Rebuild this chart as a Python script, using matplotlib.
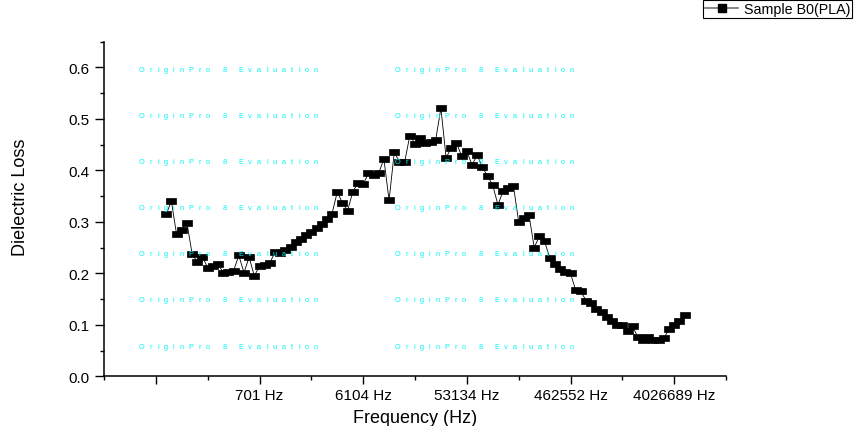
import numpy as np
import matplotlib
matplotlib.use('Agg')
import matplotlib.pyplot as plt
from matplotlib.path import Path
from matplotlib.lines import Line2D

plt.rcParams['font.family'] = ['Liberation Sans', 'DejaVu Sans']

# ---- data ----
series_label = 'Sample B0(PLA)'
dielectric_loss = [
    0.315, 0.340, 0.276, 0.285, 0.298, 0.238, 0.222, 0.232, 0.211, 0.214,
    0.218, 0.2015, 0.203, 0.205, 0.235, 0.2015, 0.231, 0.195, 0.214, 0.216,
    0.220, 0.2415, 0.240, 0.245, 0.252, 0.260, 0.267, 0.274, 0.280, 0.288,
    0.296, 0.306, 0.316, 0.358, 0.337, 0.322, 0.3585, 0.376, 0.373, 0.394,
    0.391, 0.395, 0.422, 0.342, 0.435, 0.417, 0.416, 0.4676, 0.452, 0.463,
    0.4535, 0.455, 0.460, 0.521, 0.4244, 0.444, 0.4535, 0.4275, 0.437, 0.411,
    0.4295, 0.406, 0.389, 0.371, 0.333, 0.360, 0.366, 0.3694, 0.300, 0.307,
    0.313, 0.250, 0.2725, 0.262, 0.230, 0.218, 0.208, 0.2035, 0.200, 0.167,
    0.165, 0.147, 0.143, 0.131, 0.124, 0.116, 0.1066, 0.1005, 0.099, 0.088,
    0.097, 0.0756, 0.071, 0.0756, 0.071, 0.071, 0.0736, 0.0917, 0.0994, 0.108,
    0.120,
]
point_index = np.arange(len(dielectric_loss))
major_tick_idx = [-2, 18, 38, 58, 78, 98]
major_tick_labels = ['', '701 Hz', '6104 Hz', '53134 Hz', '462552 Hz', '4026689 Hz']
minor_tick_idx = [-12, 8, 28, 48, 68, 88, 108]
y_major = [0.0, 0.1, 0.2, 0.3, 0.4, 0.5, 0.6]
y_minor = [0.05, 0.15, 0.25, 0.35, 0.45, 0.55, 0.65]

W, H = 856, 427
fig = plt.figure(figsize=(W / 100, H / 100), dpi=100)
ax = fig.add_axes([104 / W, 1 - 377.3 / H, 622 / W, 334.6 / H])

rect = Path([(-1, -0.65), (1, -0.65), (1, 0.65), (-1, 0.65), (-1, -0.65)],
            [Path.MOVETO, Path.LINETO, Path.LINETO, Path.LINETO, Path.CLOSEPOLY])

ax.plot(point_index, dielectric_loss, color='black', lw=0.6, marker=rect, ms=7.6,
        mfc='black', mec='black', mew=0.5, zorder=3)

ax.set_xlim(-12, 108)
ax.set_ylim(0, 0.65)
ax.set_xticks(major_tick_idx)
ax.set_xticklabels(major_tick_labels)
ax.set_xticks(minor_tick_idx, minor=True)
ax.set_yticks(y_major)
ax.set_yticklabels([f'{v:.1f}' for v in y_major])
ax.set_yticks(y_minor, minor=True)

for s in ['top', 'right']:
    ax.spines[s].set_visible(False)
for s in ['left', 'bottom']:
    ax.spines[s].set_linewidth(1.1)
ax.tick_params(which='major', direction='out', length=5.5, width=1.0, labelsize=11, pad=3)
ax.tick_params(which='minor', direction='out', length=3, width=1.0)
ax.tick_params(axis='y', which='major', length=6.5, pad=4)

ax.set_xlabel('Frequency (Hz)', fontsize=13)
ax.xaxis.set_label_coords(0.5, -0.098)
ax.set_ylabel('Dielectric Loss', fontsize=13)
ax.yaxis.set_label_coords(-0.12, 0.537)

# legend
handle = Line2D([], [], color='0.45', lw=1.2, marker='s', ms=6, mfc='black', mec='black')
fig.legend([handle], [series_label], loc='upper left',
           bbox_to_anchor=(703 / W, 1 - 0.5 / H), bbox_transform=fig.transFigure,
           fontsize=10.3, frameon=True, fancybox=False, edgecolor='black',
           framealpha=1, borderpad=0.15, handlelength=2.3, handletextpad=0.4,
           borderaxespad=0)
fig.legends[0].get_frame().set_linewidth(0.8)

# watermark text
wm_text = 'OriginPro 8 Evaluation'
adv = {'O': .778, 'r': .333, 'i': .222, 'g': .556, 'n': .556, 'P': .667, 'o': .556,
       ' ': .278, '8': .556, 'E': .667, 'v': .5, 'a': .556, 'l': .222, 'u': .556,
       't': .278}
em_px = 7.4
track = 5.0
wm_rows = [69.3, 115.3, 161.3, 207.3, 253.3, 299.3, 346.7]
wm_cols = [139, 395]
for yr in wm_rows:
    for x0 in wm_cols:
        x = x0
        for ch in wm_text:
            if ch != ' ':
                fig.text(x / W, 1 - (yr + 2.4) / H, ch, fontsize=em_px * 72 / 100,
                         color='#00F5F5', ha='left', va='baseline', zorder=10)
            x += adv[ch] * em_px + track

fig.savefig('out.png', dpi=100)
